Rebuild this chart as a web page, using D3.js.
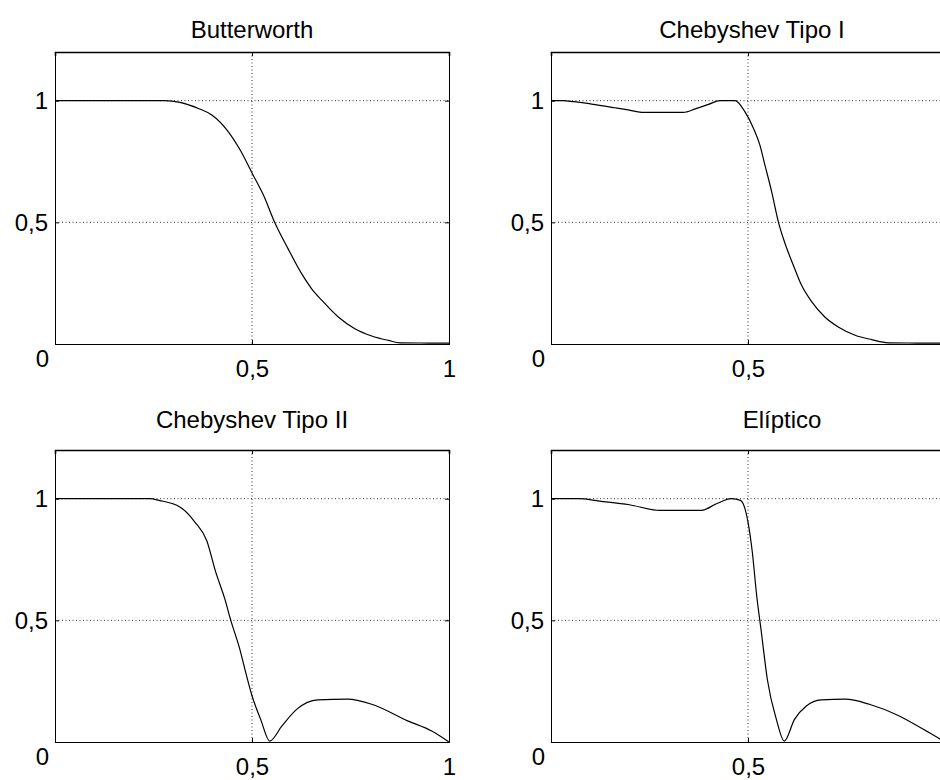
<!DOCTYPE html>
<html><head><meta charset="utf-8">
<script src="https://cdn.jsdelivr.net/npm/d3@7"></script>
<style>
body{margin:0;background:#fff;}
svg{display:block;font-family:"Liberation Sans",Arial,sans-serif;}
</style></head>
<body><svg id="c" width="940" height="780"></svg>
<script>
// ---- data ----
const titles = ["Butterworth","Chebyshev Tipo I","Chebyshev Tipo II","Elíptico"];
const xTickValues = [0, 0.5, 1];
const yTickValues = [0, 0.5, 1];
const xTickLabels = ["0","0,5","1"];
const yTickLabels = ["0","0,5","1"];

const butterX = [0,0.1,0.2,0.279,0.317,0.364,0.398,0.44,0.47,0.501,0.529,0.558,0.592,0.626,0.651,0.677,0.719,0.761,0.804,0.846,0.876,0.95,1];
const butterY = [1,1,1,1,0.993,0.968,0.941,0.872,0.797,0.70,0.612,0.498,0.39,0.289,0.228,0.18,0.111,0.063,0.033,0.015,0.005,0.004,0.004];

const cheb1X = [0,0.03,0.057,0.103,0.162,0.196,0.23,0.28,0.336,0.366,0.40,0.429,0.467,0.492,0.514,0.53,0.543,0.56,0.577,0.594,0.615,0.636,0.662,0.695,0.729,0.772,0.814,0.856,0.93,1];
const cheb1Y = [1,1,0.996,0.986,0.971,0.962,0.952,0.952,0.952,0.966,0.985,1,1,0.955,0.886,0.818,0.735,0.626,0.502,0.413,0.324,0.241,0.173,0.111,0.07,0.036,0.018,0.005,0.004,0.004];

const cheb2X = [0,0.1,0.2,0.241,0.264,0.317,0.355,0.385,0.408,0.431,0.446,0.469,0.484,0.50,0.522,0.545,0.576,0.614,0.667,0.743,0.804,0.895,0.956,1];
const cheb2Y = [1,1,1,1,0.993,0.966,0.904,0.828,0.698,0.588,0.501,0.382,0.286,0.19,0.093,0.004,0.066,0.135,0.173,0.176,0.155,0.087,0.045,0];

const ellipX = [0,0.07,0.123,0.199,0.275,0.33,0.382,0.42,0.458,0.481,0.5,0.511,0.522,0.534,0.549,0.572,0.592,0.618,0.648,0.686,0.747,0.808,0.884,0.945,1];
const ellipY = [1,1,0.99,0.975,0.952,0.952,0.952,0.979,1.0,0.993,0.904,0.78,0.602,0.45,0.258,0.093,0.004,0.093,0.148,0.173,0.176,0.155,0.107,0.052,0];

const seriesX = [butterX, cheb1X, cheb2X, ellipX];
const seriesY = [butterY, cheb1Y, cheb2Y, ellipY];

// ---- layout ----
const svg = d3.select("#c");
const panelW = 394, panelH = 292;
const lefts = [55, 551, 55, 551];
const tops = [52, 52, 450, 450];
const titleY = [38, 38, 428, 428];
const titleX = [252, 752, 252, 782];

const lbl = (vals, labels) => d => labels[vals.indexOf(d)];

for (let i = 0; i < 4; i++) {
  const x = d3.scaleLinear().domain([0,1]).range([0, panelW]);
  const y = d3.scaleLinear().domain([0,1.2]).range([panelH, 0]);
  const g = svg.append("g").attr("transform", `translate(${lefts[i]},${tops[i]})`);

  // grid
  g.append("g").selectAll("line").data([0.5]).join("line")
    .attr("x1", d=>x(d)).attr("x2", d=>x(d)).attr("y1",0).attr("y2",panelH)
    .attr("stroke","#333").attr("stroke-width",1).attr("stroke-dasharray","1,2.5");
  g.append("g").selectAll("line").data([0.5,1]).join("line")
    .attr("y1", d=>y(d)).attr("y2", d=>y(d)).attr("x1",0).attr("x2",panelW)
    .attr("stroke","#333").attr("stroke-width",1).attr("stroke-dasharray","1,2.5");

  // curve
  const pts = seriesX[i].map((v,k)=>[v, seriesY[i][k]]);
  g.append("path").datum(pts)
    .attr("d", d3.line().x(d=>x(d[0])).y(d=>y(d[1])).curve(d3.curveMonotoneX))
    .attr("fill","none").attr("stroke","#000").attr("stroke-width",1.2);

  // axes
  const fs = "24px";
  const ax = g.append("g").attr("transform",`translate(0,${panelH})`)
    .call(d3.axisBottom(x).tickValues(xTickValues).tickFormat(lbl(xTickValues,xTickLabels)).tickSize(-4).tickPadding(16));
  ax.selectAll("text").filter(d=>d===0).remove();
  const ay = g.append("g")
    .call(d3.axisLeft(y).tickValues(yTickValues).tickFormat(lbl(yTickValues,yTickLabels)).tickSize(-4).tickPadding(7));
  ay.selectAll("text").filter(d=>d===0).attr("dy","0.95em").attr("dx","1");
  const at = g.append("g").call(d3.axisTop(x).tickValues(xTickValues).tickFormat("").tickSize(-4));
  const ar = g.append("g").attr("transform",`translate(${panelW},0)`)
    .call(d3.axisRight(y).tickValues(yTickValues).tickFormat("").tickSize(-4));
  [ax,ay,at,ar].forEach(a=>{
    a.select(".domain").attr("stroke","#000").attr("stroke-width",1);
    a.selectAll(".tick line").attr("stroke","#000");
    a.selectAll("text").attr("font-size",fs).attr("fill","#000").attr("font-family","Liberation Sans, Arial, sans-serif");
  });
  at.select(".domain").attr("stroke-width",1.6);

  // title
  svg.append("text").attr("x", titleX[i]).attr("y", titleY[i])
    .attr("text-anchor","middle").attr("font-size","24px").attr("fill","#000")
    .attr("font-family","Liberation Sans, Arial, sans-serif")
    .text(titles[i]);
}
</script></body></html>
